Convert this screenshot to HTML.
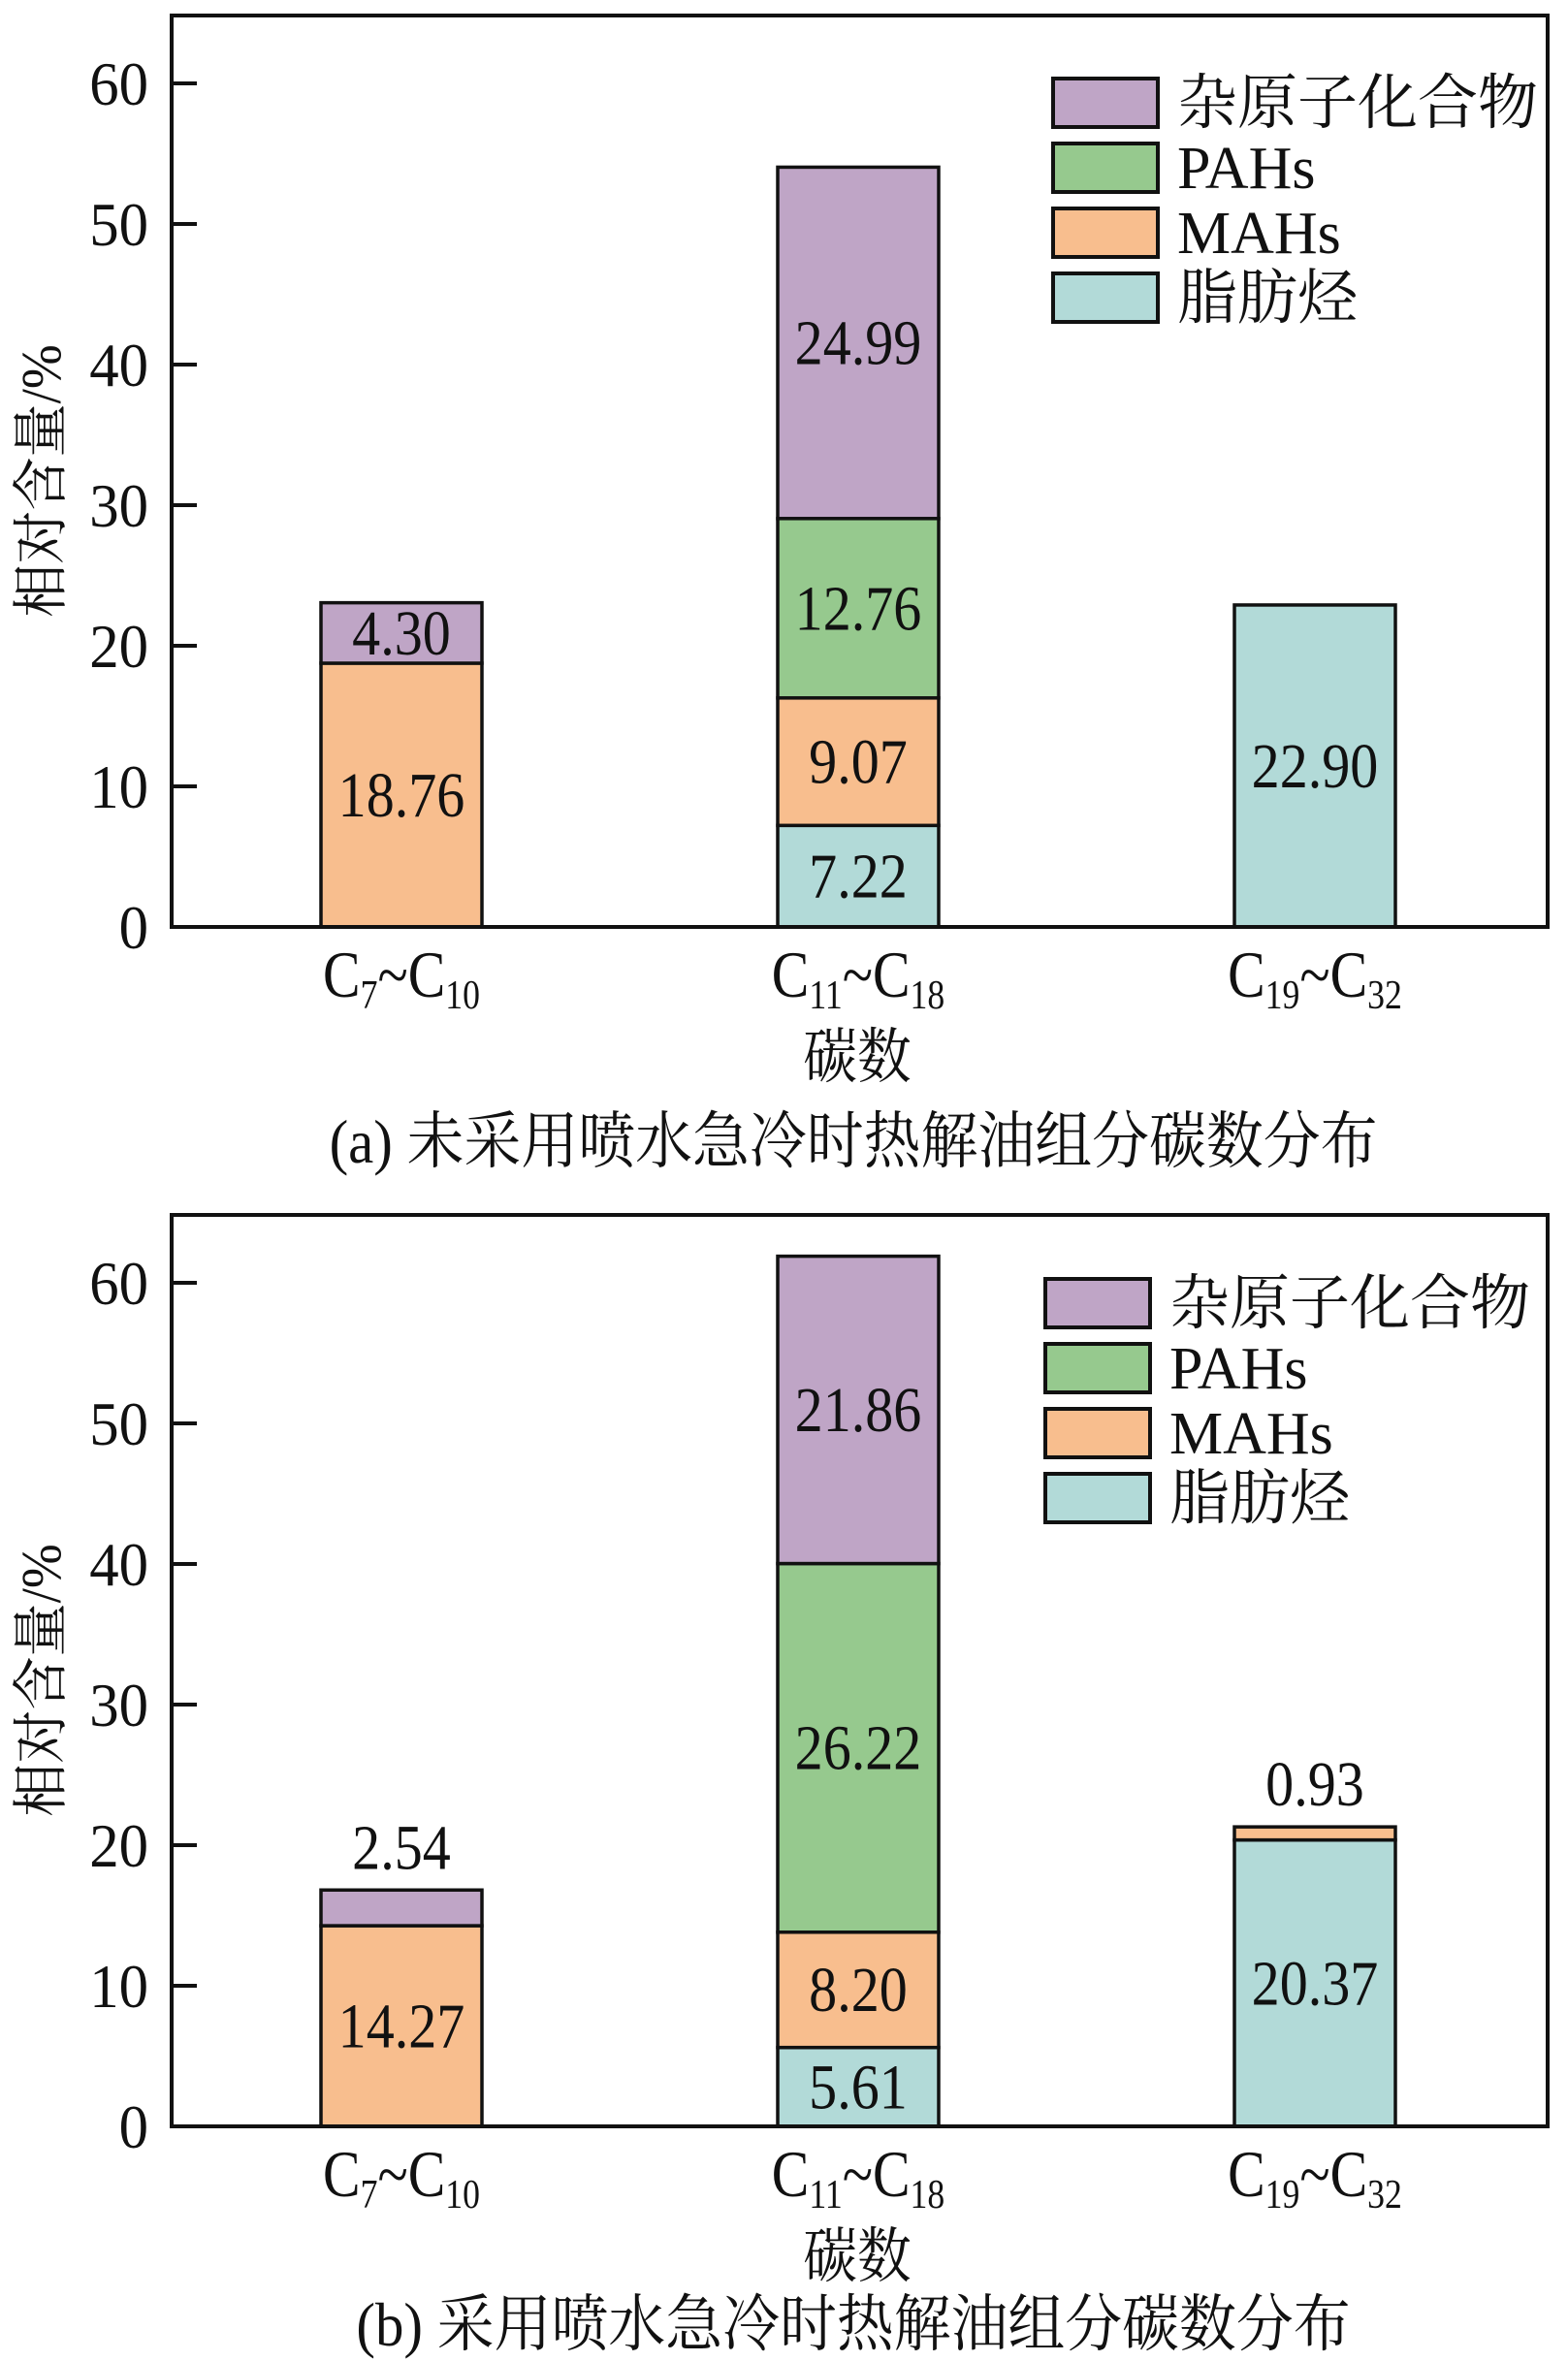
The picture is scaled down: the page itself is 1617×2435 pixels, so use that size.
<!DOCTYPE html>
<html><head><meta charset="utf-8"><style>
html,body{margin:0;padding:0;background:#fff;}
svg{display:block;}
text{font-family:"Liberation Serif","Noto Serif CJK SC","Noto Sans CJK SC",serif;fill:#111;}
</style></head><body>
<svg id="svg" width="1617" height="2435" viewBox="0 0 1617 2435"></svg>
<script>
const categories = ["C7~C10","C11~C18","C19~C32"];
const seriesNames = ["脂肪烃","MAHs","PAHs","杂原子化合物"];
const yTicks = [0,10,20,30,40,50,60];
// panel a values
const aAliphatic = [0, 7.22, 22.90];
const aMAHs = [18.76, 9.07, 0];
const aPAHs = [0, 12.76, 0];
const aHetero = [4.30, 24.99, 0];
// panel b
const bAliphatic = [0, 5.61, 20.37];
const bMAHs = [14.27, 8.20, 0.93];
const bPAHs = [0, 26.22, 0];
const bHetero = [2.54, 21.86, 0];

const colors = ["#B2DAD8","#F8BE8E","#96C98E","#BFA5C6"];
const NS = "http://www.w3.org/2000/svg";
const svg = document.getElementById('svg');
function mk(tag, attrs, parent){const e=document.createElementNS(NS,tag);for(const k in attrs)e.setAttribute(k,attrs[k]);(parent||svg).appendChild(e);return e;}

function panel(id, top, zeroY, series, outsideLabels, caption, legendTop, legendX){
  const g = mk('g',{});
  
  
  const left=177, right=1596, per10=145;
  const y = v => zeroY - v*per10/10;
  const xc = i => 414 + i*471;
  const bw = 166;
  for(let i=0;i<categories.length;i++){
    let acc=0;
    for(let s=0;s<4;s++){
      const v=series[s][i]; if(v<=0) continue;
      const r=mk('rect',{x:xc(i)-bw/2,y:y(acc+v),width:bw,height:y(acc)-y(acc+v),fill:colors[s],stroke:'#111','stroke-width':3.5},g);
      
      
      const outside = outsideLabels[i]===s;
      const ty = outside ? y(acc+v)-22 : (y(acc)+y(acc+v))/2+22;
      const t=mk('text',{transform:`translate(${xc(i)},${ty}) scale(0.88,1)`,'text-anchor':'middle','font-size':66},g);
      t.textContent=v.toFixed(2);
      
      
      acc+=v;
    }
  }
  const f=mk('rect',{x:left,y:top,width:right-left,height:zeroY-top,fill:'none',stroke:'#111','stroke-width':4},g);
  
  
  yTicks.forEach(v=>{
    const l=mk('line',{x1:left,x2:left+26,y1:y(v),y2:y(v),stroke:'#111','stroke-width':4},g);
    
    
    const t=mk('text',{transform:`translate(153,${y(v)+22}) scale(0.95,1)`,'text-anchor':'end','font-size':64},g);
    t.textContent=v;
    
    
  });
  const subs=[["7","10"],["11","18"],["19","32"]];
  categories.forEach((c,i)=>{
    const t=mk('text',{transform:`translate(${xc(i)},${zeroY+72}) scale(0.85,1)`,'text-anchor':'middle','font-size':68},g);
    t.innerHTML=`C<tspan font-size="42" dy="12">${subs[i][0]}</tspan><tspan dy="-12">~C</tspan><tspan font-size="42" dy="12">${subs[i][1]}</tspan>`;
    
    
  });
  const xt=mk('text',{transform:`translate(884,${zeroY+155}) scale(0.9,1)`,'text-anchor':'middle','font-size':62},g);
  xt.textContent='碳数';
  
  
  const yt=mk('text',{transform:`translate(62,${(top+zeroY)/2+10}) rotate(-90) scale(0.95,1)`,'text-anchor':'middle','font-size':58},g);
  yt.textContent='相对含量/%';
  
  
  const cp=mk('text',{transform:`translate(${id==='a'?880:880},${zeroY+(id==='a'?243:226)}) scale(0.92,1)`,'text-anchor':'middle','font-size':64},g);
  cp.textContent=caption;
  
  
  const order=[3,2,1,0];
  order.forEach((s,k)=>{
    const ly=legendTop+k*67;
    const r=mk('rect',{x:legendX,y:ly,width:108,height:50,fill:colors[s],stroke:'#111','stroke-width':4},g);
    
    
    const t=mk('text',{x:legendX+128,y:ly+46,'font-size':62},g);
    t.textContent=seriesNames[s];
    
    
  });
}
panel('a',16,956,[aAliphatic,aMAHs,aPAHs,aHetero],[-1,-1,-1],'(a) 未采用喷水急冷时热解油组分碳数分布',81,1086);
panel('b',1253,2193,[bAliphatic,bMAHs,bPAHs,bHetero],[3,-1,1],'(b) 采用喷水急冷时热解油组分碳数分布',1319,1078);
</script>
</body></html>
